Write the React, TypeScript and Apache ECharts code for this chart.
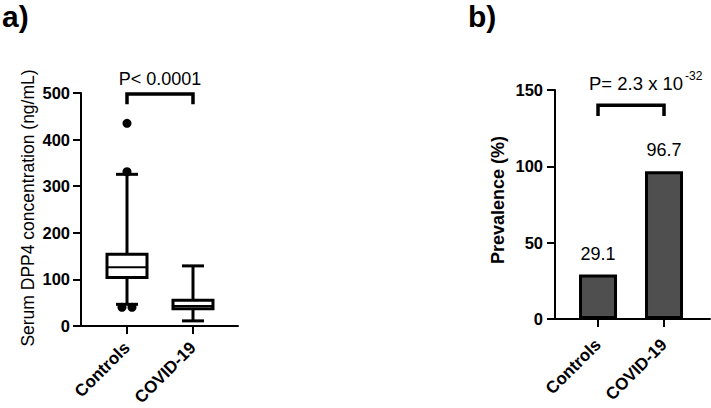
import React, { useEffect, useRef } from "react";
import * as echarts from "echarts";

// ---------- data ----------
const categories = ["Controls", "COVID-19"];
// Panel a: box plot (Serum DPP4, ng/mL)
const boxMin = [46.5, 11];
const boxQ1 = [104, 37];
const boxMedian = [126, 43];
const boxQ3 = [154, 55];
const boxMax = [325.5, 129];
const outlierX = [0, 0, -0.076, 0.076];
const outlierY = [435, 331, 40, 40];
const yTicksA = [0, 100, 200, 300, 400, 500];
// Panel b: prevalence (%)
const prevalence = [29.1, 96.7];
const yTicksB = [0, 50, 100, 150];
// significance brackets: [from, to, top, legEnd]
const bracketA = [0, 1, 498, 476];
const bracketB = [0, 1, 140, 133];
const pTextA = "P< 0.0001";
const pTextB = "P= 2.3 x 10";
const pTextBExp = "-32";

const FONT = "Liberation Sans, Arial, Helvetica, sans-serif";

function xAxisFor(gridIndex: number, min: number, max: number, margin: number) {
  return {
    type: "value",
    gridIndex,
    min,
    max,
    splitLine: { show: false },
    axisLine: { show: true, onZero: false, lineStyle: { color: "#000", width: 2 } },
    axisTick: { show: true, customValues: [0, 1], length: 8, lineStyle: { color: "#000", width: 2 } },
    axisLabel: {
      show: true,
      customValues: [0, 1],
      formatter: (v: number) => categories[Math.round(v)] ?? "",
      rotate: 45,
      margin,
      fontSize: 17,
      fontWeight: "bold",
      color: "#000",
      fontFamily: FONT,
    },
  };
}

function yAxisFor(gridIndex: number, ticks: number[], margin: number) {
  return {
    type: "value",
    gridIndex,
    min: ticks[0],
    max: ticks[ticks.length - 1],
    interval: ticks[1] - ticks[0],
    splitLine: { show: false },
    axisLine: { show: true, onZero: false, lineStyle: { color: "#000", width: 2 } },
    axisTick: { show: true, length: 8, lineStyle: { color: "#000", width: 2 } },
    axisLabel: {
      show: true,
      margin,
      fontSize: 16.5,
      fontWeight: "bold",
      color: "#000",
      fontFamily: FONT,
    },
  };
}

function bracketRender(params: any, api: any) {
  const a = api.coord([api.value(0), api.value(3)]);
  const b = api.coord([api.value(0), api.value(2)]);
  const c = api.coord([api.value(1), api.value(2)]);
  const d = api.coord([api.value(1), api.value(3)]);
  return {
    type: "polyline",
    shape: { points: [a, b, c, d] },
    style: { stroke: "#000", lineWidth: 3.5, fill: null, lineJoin: "miter" },
  };
}

export default function App() {
  const ref = useRef<HTMLDivElement>(null);
  useEffect(() => {
    if (!ref.current) return;
    const chart = echarts.init(ref.current, undefined, { renderer: "svg" });

    const boxData = categories.map((_, i) => [i, boxMin[i], boxQ1[i], boxMedian[i], boxQ3[i], boxMax[i]]);
    const outlierData = outlierX.map((x, i) => [x, outlierY[i]]);
    const barData = prevalence.map((v, i) => [i, v]);

    const option: any = {
      animation: false,
      backgroundColor: "#fff",
      textStyle: { fontFamily: FONT },
      grid: [
        { left: 81, top: 93, width: 157, height: 233, containLabel: false, outerBoundsMode: "none" },
        { left: 555, top: 90, width: 155, height: 229, containLabel: false, outerBoundsMode: "none" },
      ],
      xAxis: [xAxisFor(0, -0.697, 1.682, 19), xAxisFor(1, -0.652, 1.697, 23)],
      yAxis: [yAxisFor(0, yTicksA, 11), yAxisFor(1, yTicksB, 12)],
      series: [
        {
          type: "custom",
          xAxisIndex: 0,
          yAxisIndex: 0,
          data: boxData,
          encode: { x: 0, y: [1, 2, 3, 4, 5] },
          renderItem: (params: any, api: any) => {
            const x = api.value(0);
            const pMin = api.coord([x, api.value(1)]);
            const pQ1 = api.coord([x, api.value(2)]);
            const pMed = api.coord([x, api.value(3)]);
            const pQ3 = api.coord([x, api.value(4)]);
            const pMax = api.coord([x, api.value(5)]);
            const cx = pMin[0];
            const hb = 20;
            const hc = 11;
            const ls = { stroke: "#000", lineWidth: 3 };
            return {
              type: "group",
              children: [
                { type: "line", shape: { x1: cx, y1: pMin[1], x2: cx, y2: pQ1[1] }, style: ls },
                { type: "line", shape: { x1: cx, y1: pQ3[1], x2: cx, y2: pMax[1] }, style: ls },
                { type: "line", shape: { x1: cx - hc, y1: pMin[1], x2: cx + hc, y2: pMin[1] }, style: ls },
                { type: "line", shape: { x1: cx - hc, y1: pMax[1], x2: cx + hc, y2: pMax[1] }, style: ls },
                {
                  type: "rect",
                  shape: { x: cx - hb, y: pQ3[1], width: hb * 2, height: pQ1[1] - pQ3[1] },
                  style: { fill: "#fff", stroke: "#000", lineWidth: 3 },
                },
                { type: "line", shape: { x1: cx - hb, y1: pMed[1], x2: cx + hb, y2: pMed[1] }, style: { stroke: "#000", lineWidth: 2 } },
              ],
            };
          },
        },
        {
          type: "scatter",
          xAxisIndex: 0,
          yAxisIndex: 0,
          data: outlierData,
          symbolSize: 9,
          itemStyle: { color: "#000", opacity: 1 },
        },
        {
          type: "custom",
          xAxisIndex: 0,
          yAxisIndex: 0,
          data: [bracketA],
          encode: { x: [0, 1], y: [2, 3] },
          renderItem: bracketRender,
        },
        {
          type: "bar",
          xAxisIndex: 1,
          yAxisIndex: 1,
          data: barData,
          barWidth: 38,
          itemStyle: { color: "#4f4f4f", borderColor: "#000", borderWidth: 3 },
          label: {
            show: true,
            position: "top",
            distance: 12,
            fontSize: 18,
            color: "#000",
            fontFamily: FONT,
            formatter: (p: any) => p.value[1].toFixed(1),
          },
        },
        {
          type: "custom",
          xAxisIndex: 1,
          yAxisIndex: 1,
          data: [bracketB],
          encode: { x: [0, 1], y: [2, 3] },
          renderItem: bracketRender,
        },
      ],
      graphic: [
        { type: "text", left: 2, top: 1, style: { text: "a)", fontSize: 30, fontWeight: "bold", fill: "#000", fontFamily: FONT } },
        { type: "text", left: 468, top: 1, style: { text: "b)", fontSize: 30, fontWeight: "bold", fill: "#000", fontFamily: FONT } },
        {
          type: "text",
          x: 28,
          y: 208,
          rotation: Math.PI / 2,
          style: { text: "Serum DPP4 concentration (ng/mL)", fontSize: 17.5, fill: "#000", align: "center", verticalAlign: "middle", fontFamily: FONT },
        },
        {
          type: "text",
          x: 498,
          y: 200,
          rotation: Math.PI / 2,
          style: { text: "Prevalence (%)", fontSize: 18, fontWeight: "bold", fill: "#000", align: "center", verticalAlign: "middle", fontFamily: FONT },
        },
        {
          type: "text",
          x: 160,
          y: 79,
          style: { text: pTextA, fontSize: 18, fill: "#000", align: "center", verticalAlign: "middle", fontFamily: FONT },
        },
        {
          type: "text",
          x: 589,
          y: 83,
          style: { text: pTextB, fontSize: 18.5, fill: "#000", align: "left", verticalAlign: "middle", fontFamily: FONT },
        },
        {
          type: "text",
          x: 685,
          y: 76,
          style: { text: pTextBExp, fontSize: 12, fill: "#000", align: "left", verticalAlign: "middle", fontFamily: FONT },
        },
      ],
    };
    chart.setOption(option);
    return () => chart.dispose();
  }, []);
  return <div ref={ref} style={{ position: "absolute", left: 0, top: 0, width: 711, height: 408 }} />;
}
